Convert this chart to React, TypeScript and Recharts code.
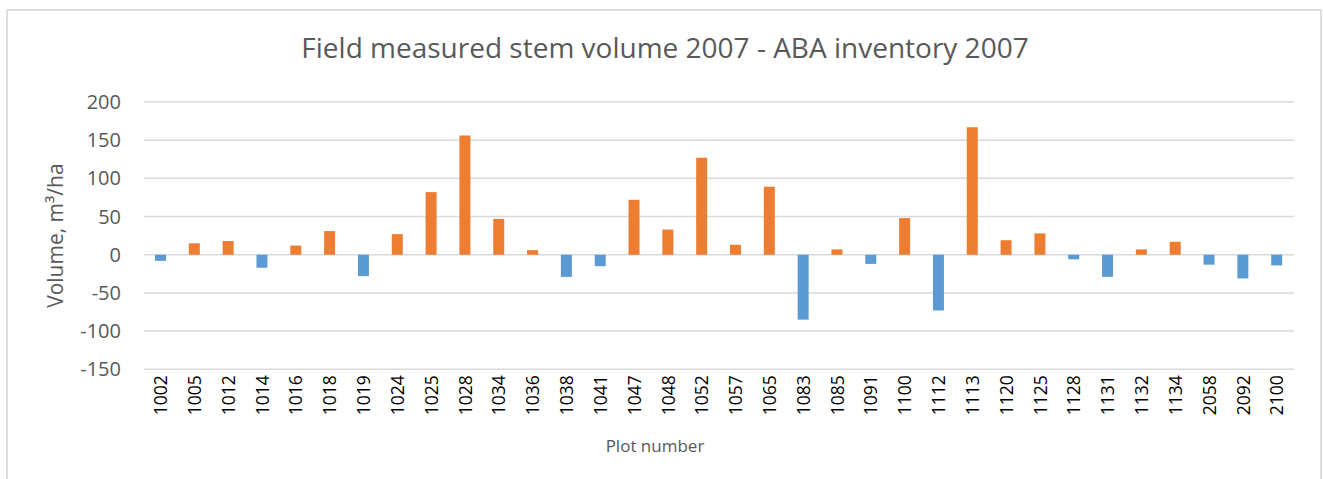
import { BarChart, Bar, XAxis, YAxis, CartesianGrid, Cell, Label } from 'recharts'

const plots = [
  '1002', '1005', '1012', '1014', '1016', '1018', '1019', '1024', '1025', '1028',
  '1034', '1036', '1038', '1041', '1047', '1048', '1052', '1057', '1065', '1083',
  '1085', '1091', '1100', '1112', '1113', '1120', '1125', '1128', '1131', '1132',
  '1134', '2058', '2092', '2100',
]

// field measured minus ABA inventory, m3/ha
const volumeDiff = [
  -8, 15, 18, -17, 12, 31, -28, 27, 82, 156,
  47, 6, -29, -15, 72, 33, 127, 13, 89, -85,
  7, -12, 48, -73, 167, 19, 28, -6, -29, 7,
  17, -13, -31, -14,
]

const yTicks = [-150, -100, -50, 0, 50, 100, 150, 200]

const data = plots.map((plot, i) => ({ plot, diff: volumeDiff[i] }))

const ORANGE = '#ED7D31'
const BLUE = '#5B9BD5'
const GREY = '#595959'
const FONT = '"Open Sans", sans-serif'

function PlotTick(props: any) {
  const { x, y, payload } = props
  return (
    <text
      x={x}
      y={y}
      transform={`rotate(-90, ${x}, ${y})`}
      textAnchor="end"
      dy="0.36em"
      fontFamily={FONT}
      fontSize={17.5}
      fill="#000"
    >
      {payload.value}
    </text>
  )
}

export default function App() {
  return (
    <div style={{ position: 'absolute', left: 0, top: 0, width: 1323, height: 479, background: '#fff', overflow: 'hidden' }}>
      <div style={{
        position: 'absolute', left: 6, top: 9, width: 1316, height: 490,
        border: '2px solid #dedede', boxSizing: 'border-box',
      }} />

      <div style={{
        position: 'absolute', left: 0, width: 1330, top: 28, textAlign: 'center',
        fontFamily: FONT, fontSize: 28, color: GREY, lineHeight: '38px',
      }}>
        Field measured stem volume 2007 - ABA inventory 2007
      </div>

      <div style={{ position: 'absolute', left: 0, top: 0 }}>
        <BarChart
          width={1323}
          height={479}
          data={data}
          margin={{ top: 102, right: 29, bottom: 50, left: 84 }}
          barCategoryGap="34%"
        >
          <CartesianGrid vertical={false} stroke="#d9d9d9" strokeWidth={1.5} />
          <XAxis
            dataKey="plot"
            interval={0}
            height={59.7}
            tickLine={false}
            axisLine={false}
            tickSize={0}
            tickMargin={6}
            tick={<PlotTick />}
          >
            <Label
              content={() => (
                <text x={655} y={446} textAnchor="middle" dy="0.35em" fontFamily={FONT} fontSize={17} fill={GREY}>
                  Plot number
                </text>
              )}
            />
          </XAxis>
          <YAxis
            width={60}
            domain={[-150, 200]}
            ticks={yTicks}
            interval={0}
            tickLine={false}
            axisLine={false}
            tickSize={0}
            tickMargin={23}
            tick={{ fontFamily: FONT, fontSize: 20, fill: GREY }}
          >
            <Label
              content={(p: any) => {
                const vb = p.viewBox
                const cx = 56
                const cy = vb.y + vb.height / 2
                return (
                  <text
                    x={cx}
                    y={cy}
                    transform={`rotate(-90, ${cx}, ${cy})`}
                    textAnchor="middle"
                    dy="0.35em"
                    fontFamily={FONT}
                    fontSize={21}
                    fill={GREY}
                  >
                    Volume, m³/ha
                  </text>
                )
              }}
            />
          </YAxis>
          <Bar dataKey="diff" barSize={11} isAnimationActive={false}>
            {data.map((d) => (
              <Cell key={d.plot} fill={d.diff < 0 ? BLUE : ORANGE} />
            ))}
          </Bar>
        </BarChart>
      </div>
    </div>
  )
}
